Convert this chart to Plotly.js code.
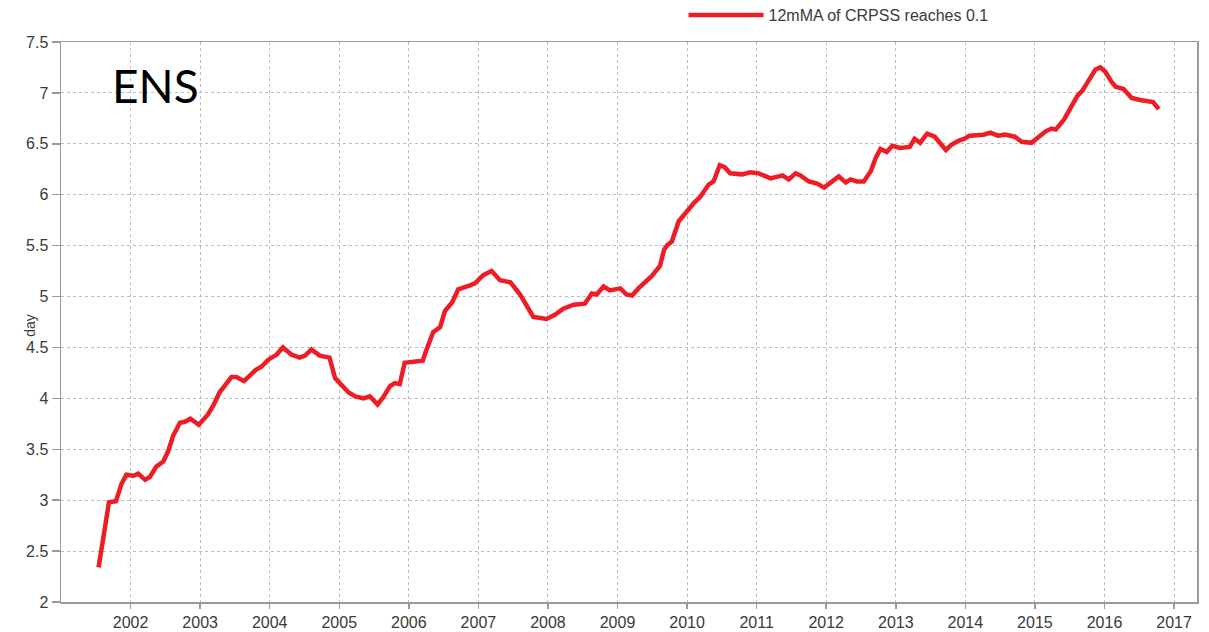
<!DOCTYPE html>
<html>
<head>
<meta charset="utf-8">
<script src="https://cdn.plot.ly/plotly-3.0.1.min.js"></script>
<style>html,body{margin:0;padding:0;background:#fff;}#chart{width:1209px;height:632px;}</style>
</head>
<body>
<div id="chart"></div>
<script>
// Decimal-year positions of the 12-month moving average curve
const years = [
  2001.54, 2001.69, 2001.79, 2001.87, 2001.94, 2002.04, 2002.11, 2002.21, 2002.28, 2002.37,
  2002.47, 2002.54, 2002.61, 2002.71, 2002.78, 2002.86, 2002.98, 2003.04, 2003.11, 2003.19,
  2003.28, 2003.35, 2003.45, 2003.52, 2003.63, 2003.71, 2003.80, 2003.88, 2003.98, 2004.10,
  2004.19, 2004.31, 2004.43, 2004.51, 2004.60, 2004.72, 2004.86, 2004.94, 2005.03, 2005.13,
  2005.23, 2005.35, 2005.44, 2005.55, 2005.63, 2005.73, 2005.80, 2005.87, 2005.94, 2006.06,
  2006.20, 2006.25, 2006.35, 2006.45, 2006.52, 2006.62, 2006.71, 2006.88, 2006.95, 2007.07,
  2007.19, 2007.31, 2007.46, 2007.60, 2007.70, 2007.79, 2007.98, 2008.10, 2008.22, 2008.37,
  2008.53, 2008.63, 2008.70, 2008.80, 2008.89, 2009.04, 2009.13, 2009.21, 2009.30, 2009.40,
  2009.49, 2009.61, 2009.67, 2009.71, 2009.78, 2009.88, 2010.00, 2010.10, 2010.19, 2010.31,
  2010.38, 2010.47, 2010.54, 2010.62, 2010.79, 2010.91, 2011.03, 2011.20, 2011.37, 2011.46,
  2011.56, 2011.63, 2011.75, 2011.87, 2011.97, 2012.06, 2012.18, 2012.28, 2012.35, 2012.44,
  2012.54, 2012.64, 2012.71, 2012.78, 2012.87, 2012.95, 2013.06, 2013.20, 2013.27, 2013.35,
  2013.45, 2013.56, 2013.63, 2013.72, 2013.80, 2013.90, 2013.99, 2014.06, 2014.26, 2014.36,
  2014.47, 2014.57, 2014.71, 2014.81, 2014.95, 2015.05, 2015.15, 2015.24, 2015.30, 2015.42,
  2015.51, 2015.61, 2015.68, 2015.78, 2015.87, 2015.94, 2016.01, 2016.10, 2016.16, 2016.27,
  2016.39, 2016.51, 2016.63, 2016.70, 2016.78
];
// Lead time (days) at which the 12mMA of CRPSS reaches 0.1
const days = [
  2.34, 2.98, 2.99, 3.16, 3.25, 3.24, 3.26, 3.20, 3.23, 3.33,
  3.38, 3.48, 3.63, 3.76, 3.77, 3.80, 3.74, 3.79, 3.84, 3.93,
  4.06, 4.12, 4.21, 4.21, 4.17, 4.22, 4.28, 4.31, 4.38, 4.43,
  4.50, 4.43, 4.40, 4.42, 4.48, 4.42, 4.40, 4.20, 4.13, 4.06,
  4.02, 4.00, 4.02, 3.94, 4.01, 4.12, 4.15, 4.14, 4.35, 4.36,
  4.37, 4.47, 4.65, 4.70, 4.86, 4.94, 5.07, 5.11, 5.13, 5.21,
  5.25, 5.16, 5.14, 5.02, 4.90, 4.80, 4.78, 4.82, 4.88, 4.92,
  4.93, 5.03, 5.02, 5.10, 5.06, 5.08, 5.02, 5.01, 5.08, 5.15,
  5.20, 5.30, 5.46, 5.50, 5.54, 5.74, 5.84, 5.92, 5.98, 6.10,
  6.13, 6.29, 6.27, 6.21, 6.20, 6.22, 6.21, 6.16, 6.19, 6.15,
  6.21, 6.19, 6.13, 6.11, 6.07, 6.12, 6.18, 6.12, 6.15, 6.13,
  6.13, 6.23, 6.36, 6.45, 6.42, 6.48, 6.46, 6.47, 6.55, 6.51,
  6.60, 6.57, 6.52, 6.44, 6.49, 6.53, 6.55, 6.58, 6.59, 6.61,
  6.58, 6.59, 6.57, 6.52, 6.51, 6.56, 6.62, 6.65, 6.64, 6.74,
  6.84, 6.97, 7.02, 7.13, 7.23, 7.25, 7.21, 7.11, 7.06, 7.04,
  6.95, 6.93, 6.92, 6.91, 6.84
];
const xTickVals = [2002, 2003, 2004, 2005, 2006, 2007, 2008, 2009, 2010, 2011, 2012, 2013, 2014, 2015, 2016, 2017];
const xTickText = ['2002','2003','2004','2005','2006','2007','2008','2009','2010','2011','2012','2013','2014','2015','2016','2017'];
const yTickVals = [2, 2.5, 3, 3.5, 4, 4.5, 5, 5.5, 6, 6.5, 7, 7.5];
const yTickText = ['2','2.5','3','3.5','4','4.5','5','5.5','6','6.5','7','7.5'];
const seriesName = '12mMA of CRPSS reaches 0.1';
const panelLabel = 'ENS';
const yTitle = 'day';

const axisFont = {family: 'Liberation Sans, Arial, sans-serif', size: 16, color: '#3a3a3a'};

const trace = {
  x: years, y: days, type: 'scatter', mode: 'lines', name: seriesName,
  line: {color: '#ee1c25', width: 4.5, shape: 'linear'},
  hoverinfo: 'skip'
};

const layout = {
  width: 1209, height: 632,
  margin: {l: 61, r: 12, t: 42, b: 30, autoexpand: false},
  paper_bgcolor: '#ffffff', plot_bgcolor: '#ffffff',
  font: axisFont,
  showlegend: true,
  legend: {
    orientation: 'h', x: 0.548, xanchor: 'left', y: 1.048, yanchor: 'middle',
    font: {family: 'Liberation Sans, Arial, sans-serif', size: 16, color: '#3a3a3a'},
    bgcolor: 'rgba(0,0,0,0)', itemwidth: 75
  },
  xaxis: {
    range: [2001.0, 2017.33], tickmode: 'array', tickvals: xTickVals, ticktext: xTickText,
    showgrid: true, gridcolor: '#bdbdbd', griddash: 'dot', gridwidth: 1,
    showline: true, linecolor: '#9a9a9a', linewidth: 1.5, mirror: true,
    ticks: 'outside', ticklen: 5, tickcolor: '#9a9a9a', tickwidth: 1.5,
    tickfont: axisFont, zeroline: false, fixedrange: true, automargin: false
  },
  yaxis: {
    range: [2, 7.5], tickmode: 'array', tickvals: yTickVals, ticktext: yTickText,
    showgrid: true, gridcolor: '#bdbdbd', griddash: 'dot', gridwidth: 1,
    showline: true, linecolor: '#9a9a9a', linewidth: 1.5, mirror: true,
    ticks: 'outside', ticklen: 8, tickcolor: '#9a9a9a', tickwidth: 1.5,
    tickfont: axisFont, zeroline: false, fixedrange: true, automargin: false
  },
  annotations: [{
    text: panelLabel, xref: 'paper', yref: 'paper', x: 0.043, y: 0.923,
    xanchor: 'left', yanchor: 'middle', showarrow: false,
    font: {family: 'Lato, Open Sans, sans-serif', size: 46, color: '#000000'}
  }, {
    text: yTitle, xref: 'paper', yref: 'paper', x: -0.0273, y: 0.495,
    xanchor: 'center', yanchor: 'middle', showarrow: false, textangle: -90,
    font: {family: 'Liberation Sans, Arial, sans-serif', size: 14, color: '#3a3a3a'}
  }]
};

Plotly.newPlot('chart', [trace], layout, {displayModeBar: false, staticPlot: true});
</script>
</body>
</html>
